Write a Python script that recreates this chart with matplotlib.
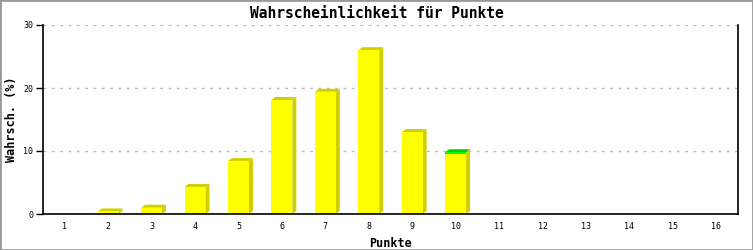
import matplotlib
matplotlib.use("Agg")
import matplotlib.pyplot as plt
from matplotlib.patches import Polygon, Rectangle

punkte = list(range(1, 17))
wahrsch = [0, 0.4, 1.0, 4.3, 8.4, 18.1, 19.4, 26.0, 13.0, 9.8, 0, 0, 0, 0, 0, 0]
highlight = 10  # bar with green top

front_col = "#ffff00"
side_col = "#d0d000"
top_col = "#d0d000"
hl_top = "#00cc00"
hl_front = "#00ff00"

mono = "DejaVu Sans Mono"

fig = plt.figure(figsize=(7.53, 2.5), dpi=100)
ax = fig.add_axes([43 / 753, 36 / 250, 695 / 753, 189 / 250])

w = 0.48
dx = 4 / 43.4
dy = 3 / 6.3

for x, v in zip(punkte, wahrsch):
    if v <= 0:
        continue
    x0, x1 = x - w / 2, x + w / 2
    # side face
    ax.add_patch(Polygon([(x1, 0), (x1 + dx, dy), (x1 + dx, v + dy), (x1, v)],
                         closed=True, facecolor=side_col, edgecolor="none", zorder=3))
    # top face
    tc = hl_top if x == highlight else top_col
    ax.add_patch(Polygon([(x0, v), (x0 + dx, v + dy), (x1 + dx, v + dy), (x1, v)],
                         closed=True, facecolor=tc, edgecolor="none", zorder=3))
    # front face
    ax.add_patch(Rectangle((x0, 0), w, v, facecolor=front_col, edgecolor="none", zorder=4))
    if x == highlight:
        ax.add_patch(Rectangle((x0, v - 0.3), w, 0.3, facecolor=hl_front,
                               edgecolor="none", zorder=5))

ax.set_xlim(0.5, 16.5)
ax.set_ylim(0, 30)
ax.set_yticks([0, 10, 20, 30])
ax.set_xticks(punkte)
ax.set_xticklabels([str(p) for p in punkte], family=mono, fontsize=6)
ax.set_yticklabels(["0", "10", "20", "30"], family=mono, fontsize=6)
ax.tick_params(axis="x", length=0, pad=6)
ax.tick_params(axis="y", length=5, width=1, direction="out", pad=2)

ax.grid(axis="y", linestyle=(0, (2, 4)), color="#bbbbbb", linewidth=1, zorder=0)
ax.set_axisbelow(True)

ax.spines["top"].set_visible(False)
for s in ["left", "bottom", "right"]:
    ax.spines[s].set_color("black")
    ax.spines[s].set_linewidth(1.2)
    ax.spines[s].set_zorder(6)

ax.set_xlabel("Punkte", family=mono, fontweight="bold", fontsize=8.5, labelpad=4)
ax.set_ylabel("Wahrsch. (%)", family=mono, fontweight="bold", fontsize=8.5)
ax.yaxis.set_label_coords(-25 / 695, 0.5)
fig.text(0.5, 1 - 13 / 250, "Wahrscheinlichkeit für Punkte", family=mono,
         fontweight="bold", fontsize=10.5, ha="center", va="center")

fig.patches.append(Rectangle((0, 0), 1, 1, transform=fig.transFigure, fill=False,
                             edgecolor="#999999", linewidth=2, zorder=10))

fig.savefig("out.png", dpi=100)
